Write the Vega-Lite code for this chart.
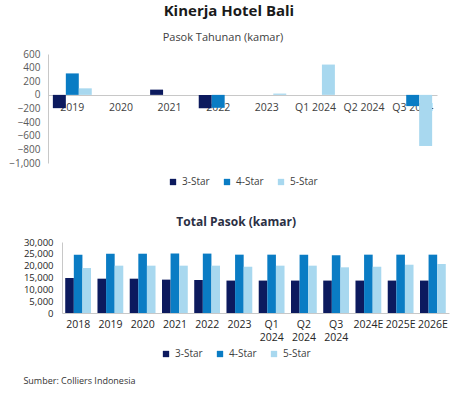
{
  "$schema": "https://vega.github.io/schema/vega-lite/v6.json",
  "padding": {"left": 8, "right": 5, "top": 4, "bottom": 5},
  "background": "white",
  "title": {"text": "Kinerja Hotel Bali", "fontSize": 15, "fontWeight": "bold", "font": "Open Sans", "color": "#1a1a1a", "anchor": "middle", "offset": 13},
  "datasets": {
    "annual": [
      {"period": "2019", "star": "3-Star", "value": -195},
      {"period": "2019", "star": "4-Star", "value": 315},
      {"period": "2019", "star": "5-Star", "value": 96},
      {"period": "2020", "star": "3-Star", "value": 0},
      {"period": "2020", "star": "4-Star", "value": 0},
      {"period": "2020", "star": "5-Star", "value": 0},
      {"period": "2021", "star": "3-Star", "value": 77},
      {"period": "2021", "star": "4-Star", "value": 0},
      {"period": "2021", "star": "5-Star", "value": 0},
      {"period": "2022", "star": "3-Star", "value": -195},
      {"period": "2022", "star": "4-Star", "value": -190},
      {"period": "2022", "star": "5-Star", "value": 0},
      {"period": "2023", "star": "3-Star", "value": 0},
      {"period": "2023", "star": "4-Star", "value": 0},
      {"period": "2023", "star": "5-Star", "value": 19},
      {"period": "Q1 2024", "star": "3-Star", "value": 0},
      {"period": "Q1 2024", "star": "4-Star", "value": 0},
      {"period": "Q1 2024", "star": "5-Star", "value": 445},
      {"period": "Q2 2024", "star": "3-Star", "value": 0},
      {"period": "Q2 2024", "star": "4-Star", "value": 0},
      {"period": "Q2 2024", "star": "5-Star", "value": 0},
      {"period": "Q3 2024", "star": "3-Star", "value": 0},
      {"period": "Q3 2024", "star": "4-Star", "value": -165},
      {"period": "Q3 2024", "star": "5-Star", "value": -750}
    ],
    "total": [
      {"period": "2018", "star": "3-Star", "value": 14800},
      {"period": "2018", "star": "4-Star", "value": 24650},
      {"period": "2018", "star": "5-Star", "value": 19000},
      {"period": "2019", "star": "3-Star", "value": 14500},
      {"period": "2019", "star": "4-Star", "value": 25050},
      {"period": "2019", "star": "5-Star", "value": 20000},
      {"period": "2020", "star": "3-Star", "value": 14500},
      {"period": "2020", "star": "4-Star", "value": 25050},
      {"period": "2020", "star": "5-Star", "value": 20000},
      {"period": "2021", "star": "3-Star", "value": 14100},
      {"period": "2021", "star": "4-Star", "value": 25100},
      {"period": "2021", "star": "5-Star", "value": 20000},
      {"period": "2022", "star": "3-Star", "value": 13950},
      {"period": "2022", "star": "4-Star", "value": 25100},
      {"period": "2022", "star": "5-Star", "value": 20000},
      {"period": "2023", "star": "3-Star", "value": 13700},
      {"period": "2023", "star": "4-Star", "value": 24650},
      {"period": "2023", "star": "5-Star", "value": 19550},
      {"period": "Q1 2024", "star": "3-Star", "value": 13700},
      {"period": "Q1 2024", "star": "4-Star", "value": 24650},
      {"period": "Q1 2024", "star": "5-Star", "value": 20000},
      {"period": "Q2 2024", "star": "3-Star", "value": 13700},
      {"period": "Q2 2024", "star": "4-Star", "value": 24650},
      {"period": "Q2 2024", "star": "5-Star", "value": 20000},
      {"period": "Q3 2024", "star": "3-Star", "value": 13700},
      {"period": "Q3 2024", "star": "4-Star", "value": 24400},
      {"period": "Q3 2024", "star": "5-Star", "value": 19300},
      {"period": "2024E", "star": "3-Star", "value": 13700},
      {"period": "2024E", "star": "4-Star", "value": 24650},
      {"period": "2024E", "star": "5-Star", "value": 19550},
      {"period": "2025E", "star": "3-Star", "value": 13700},
      {"period": "2025E", "star": "4-Star", "value": 24650},
      {"period": "2025E", "star": "5-Star", "value": 20400},
      {"period": "2026E", "star": "3-Star", "value": 13700},
      {"period": "2026E", "star": "4-Star", "value": 24650},
      {"period": "2026E", "star": "5-Star", "value": 20700}
    ]
  },
  "config": {
    "font": "Open Sans",
    "view": {"stroke": null},
    "axis": {"grid": false, "ticks": false, "domainColor": "#c8c8c8", "labelColor": "#404040", "labelFontSize": 10, "labelFont": "Open Sans"},
    "legend": {"labelFontSize": 10, "labelColor": "#404040", "symbolSize": 40, "symbolStrokeWidth": 0, "symbolType": "square", "columnPadding": 12, "offset": 14, "layout": {"bottom": {"anchor": "middle"}}},
    "concat": {"spacing": 29}
  },
  "vconcat": [
    {
      "data": {"name": "annual"},
      "title": {"text": "Pasok Tahunan (kamar)", "fontSize": 11, "fontWeight": "normal", "color": "#404040", "offset": 6, "frame": "bounds"},
      "width": 389,
      "height": 109,
      "mark": {"type": "bar"},
      "encoding": {
        "x": {"field": "period", "type": "nominal", "sort": null, "scale": {"paddingInner": 0.2, "paddingOuter": 0.1}, "axis": {"title": null, "labelAngle": 0, "offset": -68, "labelPadding": 7, "labelFontSize": 10.5}},
        "xOffset": {"field": "star", "type": "nominal", "sort": ["3-Star", "4-Star", "5-Star"], "scale": {"paddingInner": 0, "paddingOuter": 0}},
        "y": {"field": "value", "type": "quantitative", "scale": {"domain": [-1000, 600], "nice": false}, "axis": {"title": null, "values": [-1000, -800, -600, -400, -200, 0, 200, 400, 600], "format": ",.0f", "labelColor": "#595959", "labelPadding": 8}},
        "color": {"field": "star", "type": "nominal", "scale": {"domain": ["3-Star", "4-Star", "5-Star"], "range": ["#0c1a5e", "#0a7cc4", "#a8d8ef"]}, "legend": {"title": null, "orient": "bottom", "direction": "horizontal"}}
      }
    },
    {
      "title": {"text": "Sumber: Colliers Indonesia", "orient": "bottom", "anchor": "start", "fontSize": 9, "fontWeight": "normal", "color": "#333333", "offset": 18},
      "vconcat": [
        {
          "data": {"name": "total"},
          "title": {"text": "Total Pasok (kamar)", "fontSize": 12, "fontWeight": "bold", "color": "#2b3044", "offset": 8, "frame": "bounds"},
          "width": 401,
          "height": 71,
          "mark": {"type": "bar"},
          "encoding": {
            "x": {"field": "period", "type": "nominal", "sort": null, "scale": {"paddingInner": 0.2, "paddingOuter": 0.1, "range": [14, 401]}, "axis": {"title": null, "labelAngle": 0, "labelPadding": 6, "labelExpr": "split(datum.label, ' ')", "labelLineHeight": 13, "labelFontSize": 10.5, "labelColor": "#262626"}},
            "xOffset": {"field": "star", "type": "nominal", "sort": ["3-Star", "4-Star", "5-Star"], "scale": {"paddingInner": 0, "paddingOuter": 0}},
            "y": {"field": "value", "type": "quantitative", "scale": {"domain": [0, 30000], "nice": false}, "axis": {"title": null, "offset": -14, "values": [0, 5000, 10000, 15000, 20000, 25000, 30000], "format": ",.0f", "labelColor": "#262626", "labelFontSize": 9.5, "labelPadding": 9}},
            "color": {"field": "star", "type": "nominal", "scale": {"domain": ["3-Star", "4-Star", "5-Star"], "range": ["#0c1a5e", "#0a7cc4", "#a8d8ef"]}, "legend": {"title": null, "orient": "bottom", "direction": "horizontal", "offset": 6}}
          }
        }
      ]
    }
  ],
  "resolve": {"legend": {"color": "independent"}, "scale": {"xOffset": "independent"}}
}
